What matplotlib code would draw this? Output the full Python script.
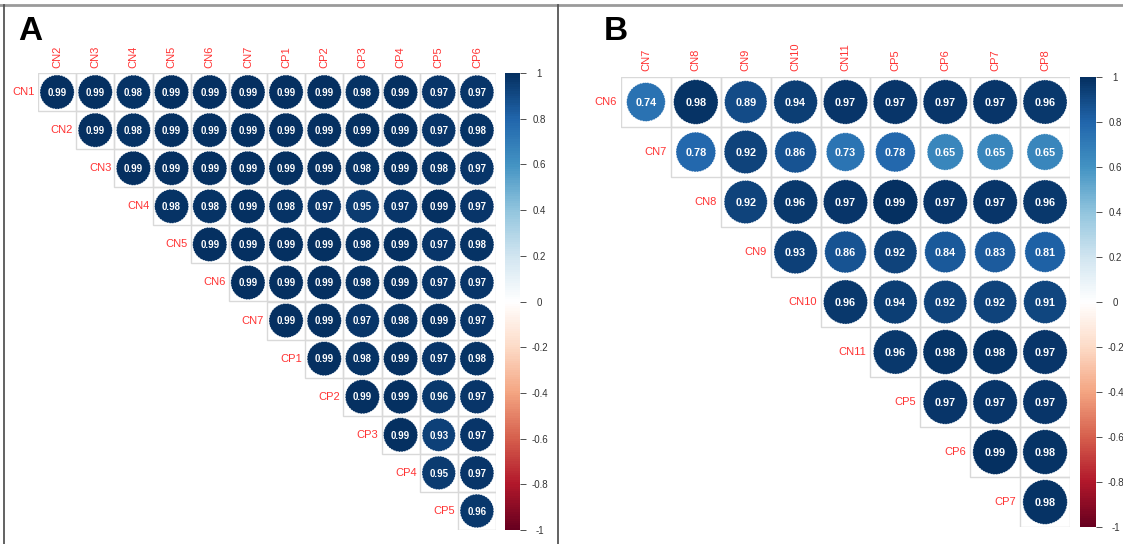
import numpy as np
import matplotlib
matplotlib.use("Agg")
import matplotlib.pyplot as plt
from matplotlib.colors import LinearSegmentedColormap, Normalize
from matplotlib.patches import Ellipse, Rectangle
from matplotlib.lines import Line2D
from matplotlib.cm import ScalarMappable

plt.rcParams['font.family'] = ['Liberation Sans', 'DejaVu Sans']

# panel A
rows_a = ['CN1', 'CN2', 'CN3', 'CN4', 'CN5', 'CN6', 'CN7', 'CP1', 'CP2', 'CP3', 'CP4', 'CP5']
cols_a = ['CN2', 'CN3', 'CN4', 'CN5', 'CN6', 'CN7', 'CP1', 'CP2', 'CP3', 'CP4', 'CP5', 'CP6']
vals_a = [
    [0.99, 0.99, 0.98, 0.99, 0.99, 0.99, 0.99, 0.99, 0.98, 0.99, 0.97, 0.97],
    [0.99, 0.98, 0.99, 0.99, 0.99, 0.99, 0.99, 0.99, 0.99, 0.97, 0.98],
    [0.99, 0.99, 0.99, 0.99, 0.99, 0.99, 0.98, 0.99, 0.98, 0.97],
    [0.98, 0.98, 0.99, 0.98, 0.97, 0.95, 0.97, 0.99, 0.97],
    [0.99, 0.99, 0.99, 0.99, 0.98, 0.99, 0.97, 0.98],
    [0.99, 0.99, 0.99, 0.98, 0.99, 0.97, 0.97],
    [0.99, 0.99, 0.97, 0.98, 0.99, 0.97],
    [0.99, 0.98, 0.99, 0.97, 0.98],
    [0.99, 0.99, 0.96, 0.97],
    [0.99, 0.93, 0.97],
    [0.95, 0.97],
    [0.96],
]

# panel B
rows_b = ['CN6', 'CN7', 'CN8', 'CN9', 'CN10', 'CN11', 'CP5', 'CP6', 'CP7']
cols_b = ['CN7', 'CN8', 'CN9', 'CN10', 'CN11', 'CP5', 'CP6', 'CP7', 'CP8']
vals_b = [
    [0.74, 0.98, 0.89, 0.94, 0.97, 0.97, 0.97, 0.97, 0.96],
    [0.78, 0.92, 0.86, 0.73, 0.78, 0.65, 0.65, 0.65],
    [0.92, 0.96, 0.97, 0.99, 0.97, 0.97, 0.96],
    [0.93, 0.86, 0.92, 0.84, 0.83, 0.81],
    [0.96, 0.94, 0.92, 0.92, 0.91],
    [0.96, 0.98, 0.98, 0.97],
    [0.97, 0.97, 0.97],
    [0.99, 0.98],
    [0.98],
]

cbar_ticks = [-1, -0.8, -0.6, -0.4, -0.2, 0, 0.2, 0.4, 0.6, 0.8, 1]

rdbu = ["#67001F", "#B2182B", "#D6604D", "#F4A582", "#FDDBC7", "#FFFFFF",
        "#D1E5F0", "#92C5DE", "#4393C3", "#2166AC", "#053061"]
cmap = LinearSegmentedColormap.from_list('corr', rdbu, N=200)
norm = Normalize(-1, 1)

W, H = 1123, 544
fig = plt.figure(figsize=(W / 100, H / 100), dpi=100)


def px_axes(x0, y0, x1, y1):
    return fig.add_axes([x0 / W, 1 - y1 / H, (x1 - x0) / W, (y1 - y0) / H])


def corr_panel(box, cbox, rows, cols, vals, letter, letter_x, fs_lab, fs_num):
    ax = px_axes(*box)
    n = len(cols)
    ax.set_xlim(0, n)
    ax.set_ylim(n, 0)
    ax.axis('off')
    for i, row in enumerate(vals):
        start = n - len(row)
        for k, r in enumerate(row):
            j = start + k
            ax.add_patch(Rectangle((j, i), 1, 1, facecolor='none',
                                   edgecolor='#D9D9D9', lw=1.0, zorder=1))
            d = 0.9 * np.sqrt(abs(r))
            ax.add_patch(Ellipse((j + 0.5, i + 0.5), d, d, facecolor=cmap(norm(r)),
                                 edgecolor='white', lw=0.5, ls=(0, (2, 2)),
                                 zorder=2))
            ax.text(j + 0.5, i + 0.52, f'{r:.2f}', color='white', fontsize=fs_num,
                    fontweight='bold', ha='center', va='center', zorder=3)
        ax.text(start - 0.08, i + 0.5, rows[i], color='#FF3333', fontsize=fs_lab,
                ha='right', va='center')
    for j, c in enumerate(cols):
        ax.text(j + 0.5, -0.12, c, color='#FF3333', fontsize=fs_lab, rotation=90,
                ha='center', va='bottom')

    cax = px_axes(*cbox)
    cb = fig.colorbar(ScalarMappable(norm=norm, cmap=cmap), cax=cax, ticks=cbar_ticks)
    cb.outline.set_visible(False)
    cb.ax.set_yticklabels([f'{t:g}' for t in cbar_ticks], ha='center')
    cb.ax.tick_params(labelsize=7, colors='#333333', length=4, width=0.6, pad=10)

    fig.text(letter_x / W, 1 - 31 / H, letter, fontsize=24, fontweight='bold',
             va='center', ha='left')


corr_panel((38, 73, 496, 530), (505, 73, 520, 530), rows_a, cols_a, vals_a,
           'A', 18, 8, 7)
corr_panel((621, 77, 1070, 527), (1080, 77, 1096, 527), rows_b, cols_b, vals_b,
           'B', 604, 8, 7.8)

# panel frames
fig.add_artist(Line2D([0, 1], [1 - 5 / H, 1 - 5 / H], color='#9A9A9A', lw=2,
                      transform=fig.transFigure))
fig.add_artist(Line2D([4 / W, 4 / W], [0, 1 - 5 / H], color='#555555', lw=1.3,
                      transform=fig.transFigure))
fig.add_artist(Line2D([558 / W, 558 / W], [0, 1 - 5 / H], color='#555555', lw=1.3,
                      transform=fig.transFigure))

fig.savefig('out.png', dpi=100)
